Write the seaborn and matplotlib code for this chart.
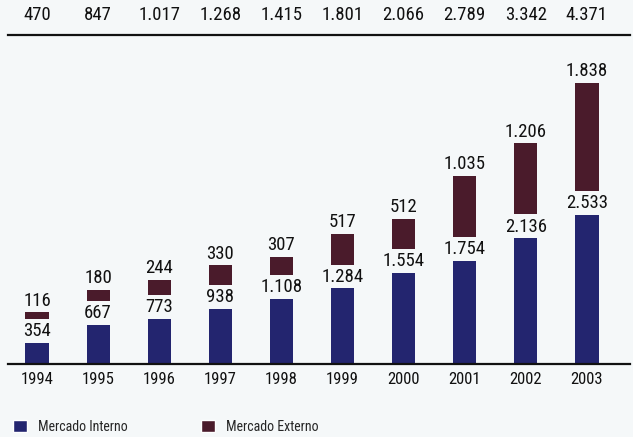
import matplotlib
matplotlib.use("Agg")
import matplotlib.pyplot as plt
import seaborn as sns
from matplotlib.patches import Patch

# Exportações por ano (mercado interno + mercado externo)
years = ["1994", "1995", "1996", "1997", "1998", "1999", "2000", "2001", "2002", "2003"]
interno = [354, 667, 773, 938, 1108, 1284, 1554, 1754, 2136, 2533]
externo = [116, 180, 244, 330, 307, 517, 512, 1035, 1206, 1838]
totals = [470, 847, 1017, 1268, 1415, 1801, 2066, 2789, 3342, 4371]
legend_labels = ["Mercado Interno", "Mercado Externo"]

BLUE = "#23256f"
RED = "#4a1b2b"
BG = "#f5f8f9"
INK = "#111111"
GAP = 408      # vertical space left between segments for the value label
YMAX = 5595


def fmt(v):
    return f"{v:,}".replace(",", ".")


sns.set_theme(style="white")
plt.rcParams["font.family"] = ["Roboto Condensed", "DejaVu Sans"]

fig = plt.figure(figsize=(6.33, 4.37), dpi=100, facecolor=BG)
ax = fig.add_axes([8 / 633, 73 / 437, 622 / 633, 329 / 437])
ax.set_facecolor(BG)

sns.barplot(x=years, y=interno, color=BLUE, width=0.38, saturation=1,
            linewidth=0, ax=ax)
sns.barplot(x=years, y=externo, bottom=[v + GAP for v in interno], color=RED,
            width=0.38, saturation=1, linewidth=0, ax=ax)

for i, (a, b) in enumerate(zip(interno, externo)):
    ax.annotate(fmt(a), xy=(i, a), xytext=(0, 2), textcoords="offset points",
                ha="center", va="bottom", fontsize=13.5, color=INK)
    ax.annotate(fmt(b), xy=(i, a + GAP + b), xytext=(0, 2),
                textcoords="offset points", ha="center", va="bottom",
                fontsize=13.5, color=INK)

for i, t in enumerate(totals):
    ax.text(i, 1.062, fmt(t), transform=ax.get_xaxis_transform(),
            ha="center", va="center", fontsize=13.5, color=INK)

ax.set_xlim(-0.475, 9.705)
ax.set_ylim(0, YMAX)
ax.set_yticks([])
ax.set_xlabel("")
ax.set_ylabel("")
ax.tick_params(axis="x", length=0, pad=6, labelsize=12, labelcolor=INK)
for side in ("left", "right"):
    ax.spines[side].set_visible(False)
for side in ("top", "bottom"):
    ax.spines[side].set_color(INK)
    ax.spines[side].set_linewidth(1.6)

handles = [Patch(facecolor=BLUE, label=legend_labels[0]),
           Patch(facecolor=RED, label=legend_labels[1])]
fig.legend(handles=handles, loc="lower left", bbox_to_anchor=(13 / 633, 3 / 437),
           ncol=2, frameon=False, fontsize=10, handlelength=1.0,
           handleheight=0.95, handletextpad=0.8, columnspacing=5.3,
           borderpad=0, borderaxespad=0)

fig.savefig("out.png", dpi=100, facecolor=BG)
